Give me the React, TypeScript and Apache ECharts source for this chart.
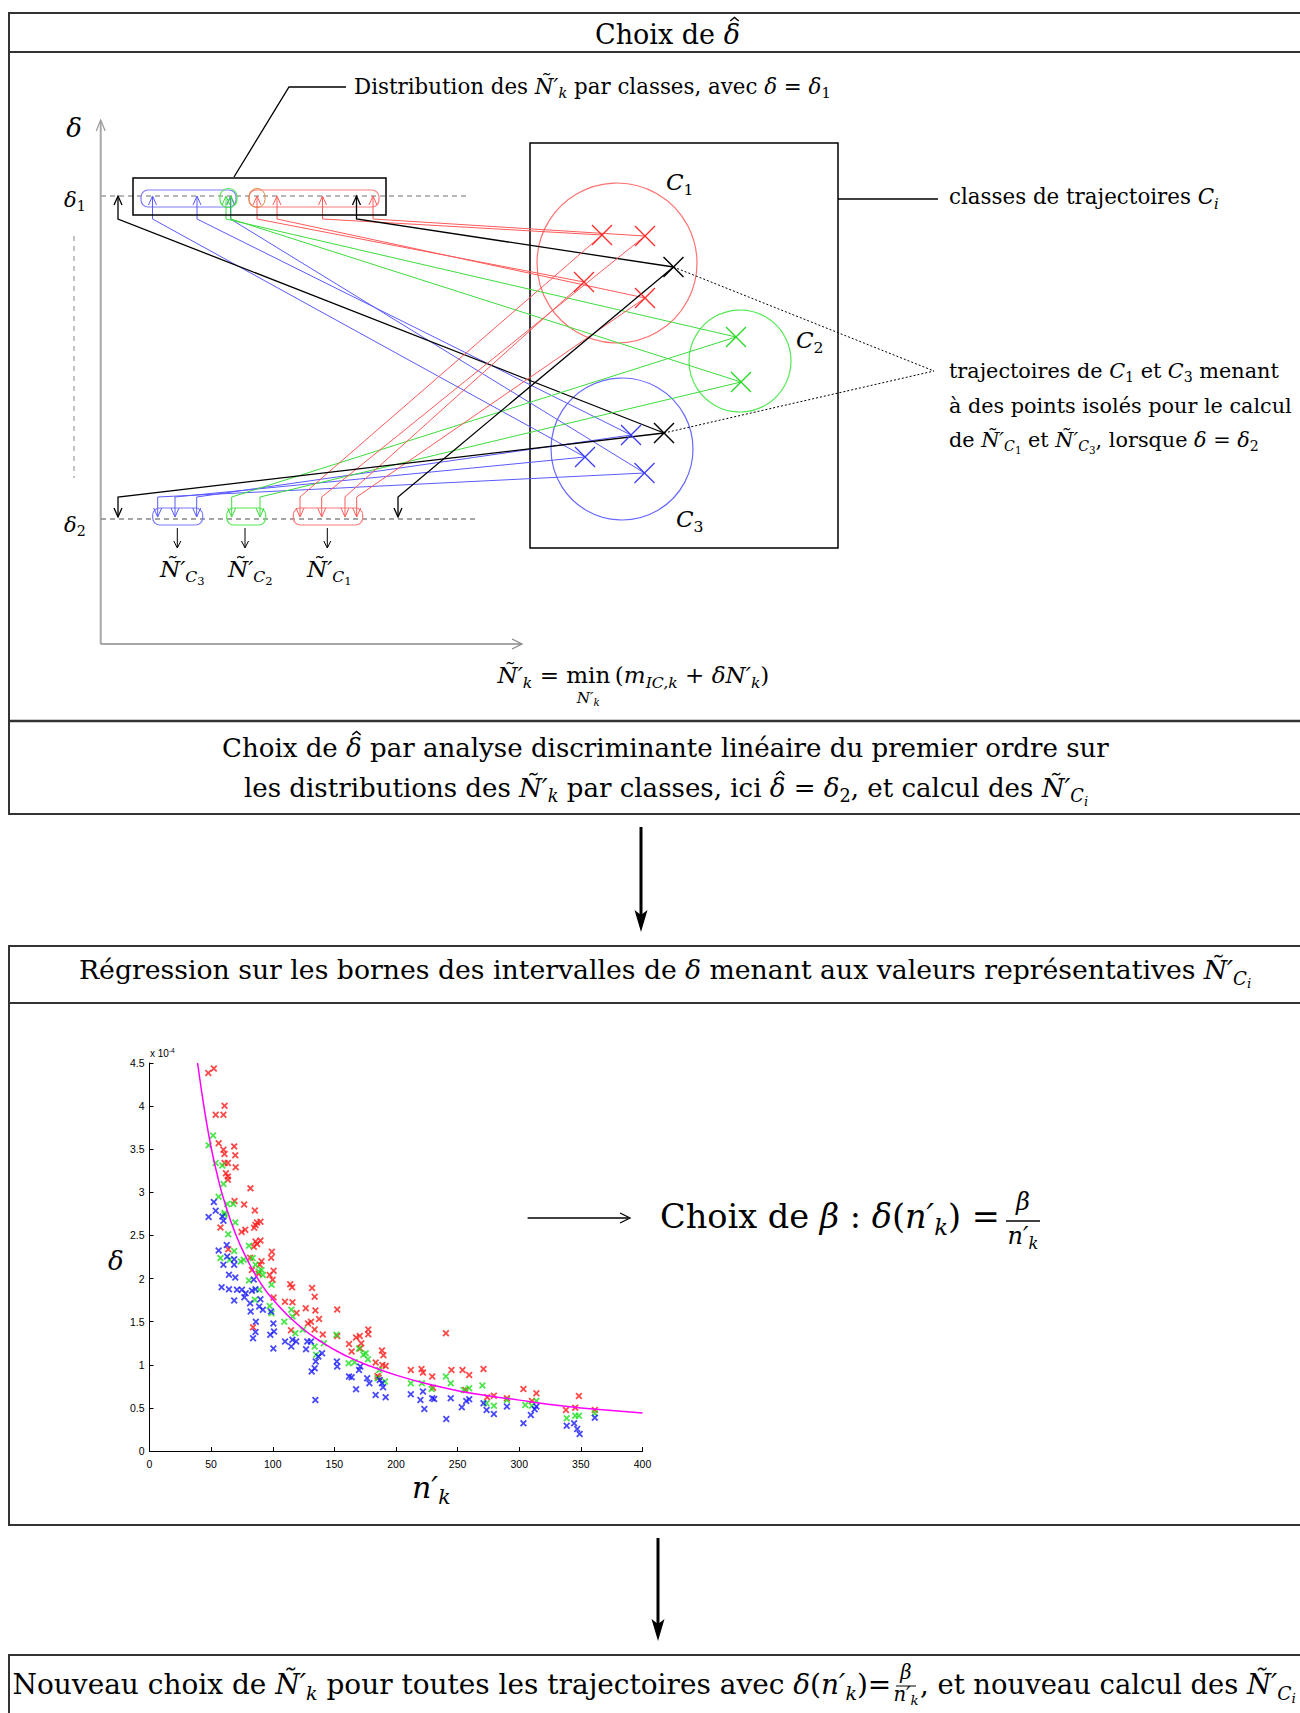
import { useEffect, useRef } from 'react';
import * as echarts from 'echarts';

// ---------- Regression scatter: upper bounds of delta (x 1e-4) versus n'_k ----------
const xTicks = [0, 50, 100, 150, 200, 250, 300, 350, 400];
const yTicks = [0, 0.5, 1, 1.5, 2, 2.5, 3, 3.5, 4, 4.5];

const redPoints: number[][] = [
  [47.7, 4.385], [52.2, 4.435], [53.7, 3.9], [60, 3.9], [60.9, 4.005], [56.1, 3.57], [60, 3.495], [60.9, 3.444],
  [60.9, 3.34], [63.6, 3.34], [62, 3.22], [63.6, 3.185], [63.6, 3.146], [68.7, 3.533], [69.6, 3.43], [69.9, 3.29],
  [57.6, 2.593], [63.9, 2.34], [69, 2.9], [76.8, 2.86], [74.7, 2.54], [77.7, 2.566], [81.9, 3.046], [85.5, 2.79],
  [84.9, 2.59], [86, 2.62], [87.3, 2.65], [90, 2.66], [86, 2.43], [90, 2.44], [87.3, 2.4], [90.9, 2.2],
  [89.4, 2.16], [84.6, 2.37], [81.6, 2.24], [83.1, 2.1], [88.5, 2.055], [99.3, 2.31], [98.7, 2.24], [100.7, 2.09],
  [99.9, 1.985], [97.5, 2.04], [100.7, 1.78], [109.9, 1.73], [114.2, 1.935], [115.7, 1.9], [116, 1.725], [119.3, 1.6],
  [114.8, 1.4], [126.8, 1.656], [131.9, 1.89], [134, 1.79], [134.6, 1.63], [137.6, 1.53], [128.6, 1.48], [131, 1.5],
  [134, 1.41], [140.6, 1.35], [152.3, 1.64], [152.3, 1.335], [84, 1.436], [161.9, 1.24], [164, 1.153], [167.6, 1.316],
  [170.6, 1.335], [177.5, 1.41], [177.5, 1.354], [171.8, 1.25], [170.9, 1.19], [188.6, 1.165], [189.8, 1.11], [191.6, 0.987],
  [188.9, 0.998], [183.5, 1.026], [185, 0.87], [212, 0.94], [220.7, 0.952], [221.9, 0.909], [229.4, 0.863], [230, 0.735],
  [240.5, 1.366], [245, 0.94], [254, 0.94], [259.4, 0.882], [271, 0.952], [256.4, 0.708], [274, 0.623], [279.4, 0.642],
  [290, 0.611], [303.4, 0.72], [310.3, 0.58], [313.9, 0.67], [337.9, 0.476], [345.4, 0.503], [348.4, 0.639], [361.3, 0.476],
  [185.9, 0.851],
];

const greenPoints: number[][] = [
  [48, 3.545], [51.6, 3.66], [53.7, 3.34], [59.1, 3.31], [60, 3.096], [56.1, 2.95], [63, 2.864], [68, 2.864],
  [60.9, 2.76], [60.9, 2.74], [69.6, 2.65], [63.9, 2.515], [68.7, 2.32], [57.6, 2.237], [65, 2.217], [74, 2.198],
  [76.5, 2.217], [80.7, 2.38], [83.7, 2.237], [86, 2.16], [80.7, 1.978], [88.5, 2.082], [90.9, 2.1], [92.1, 2.04],
  [89.1, 1.87], [85.5, 1.753], [99, 1.927], [97.5, 1.683], [99, 1.598], [109.4, 1.5], [115.1, 1.637], [116, 1.56],
  [118.4, 1.366], [124.4, 1.405], [134, 1.211], [141.5, 1.25], [135.2, 1.115], [151.7, 1.347], [161.6, 1.018], [166.4, 1.03],
  [170, 1.19], [173.6, 1.115], [175.4, 1.134], [177.2, 1.064], [185, 0.844], [191, 0.805], [212, 0.786], [221, 0.786],
  [229, 0.72], [240.5, 0.863], [244.4, 0.786], [254.9, 0.708], [259.4, 0.728], [270.1, 0.759], [273.5, 0.553], [279.4, 0.526],
  [290, 0.592], [304.9, 0.534], [310.3, 0.526], [313.9, 0.58], [338.5, 0.379], [345.4, 0.41], [348.4, 0.41], [361.3, 0.437],
  [186.5, 0.94],
];

const bluePoints: number[][] = [
  [48, 2.713], [52.2, 2.887], [53.7, 2.786], [59.1, 2.72], [60, 2.67], [62.7, 2.39], [56.1, 2.326], [63, 2.256],
  [60, 2.16], [64.5, 2.043], [68.7, 2.225], [68.7, 2.16], [69.6, 2.012], [58.5, 1.9], [64.5, 1.877], [71, 1.87],
  [68.7, 1.745], [75, 1.87], [78, 1.83], [77, 1.784], [81.6, 1.714], [82.1, 1.618], [84.6, 1.99], [83.1, 1.86],
  [86, 1.877], [86.3, 1.5], [86, 1.38], [84, 1.307], [89, 1.676], [90, 1.76], [92, 1.637], [98.6, 1.618],
  [100.5, 1.48], [101, 1.385], [100.5, 1.19], [98, 1.347], [110, 1.27], [115, 1.211], [116, 1.29], [119, 1.27],
  [127, 1.18], [128, 1.27], [131, 1.27], [131.6, 0.921], [134, 0.96], [134.9, 1.037], [137, 1.095], [140, 1.134],
  [134.6, 0.592], [152, 1.037], [152.3, 0.979], [161.9, 0.863], [164, 0.855], [167.6, 0.716], [170, 0.94], [171, 0.979],
  [176.6, 0.844], [178.4, 0.786], [183.5, 0.65], [186.8, 0.824], [188.6, 0.786], [189.5, 0.739], [191.6, 0.623], [212, 0.658],
  [219.8, 0.592], [221.9, 0.689], [223, 0.488], [229.4, 0.611], [231, 0.604], [240.8, 0.372], [244.4, 0.611], [253.4, 0.507],
  [257, 0.58], [259.4, 0.6], [271, 0.553], [273.5, 0.476], [279.4, 0.43], [290, 0.515], [303.4, 0.321], [309.4, 0.418],
  [312.5, 0.484], [313.9, 0.515], [338.5, 0.294], [344.5, 0.321], [347, 0.255], [349, 0.197], [361.3, 0.387],
];

// fitted curve delta = beta / n'_k, in units of 1e-4
const fitCurve: number[][] = [
  [39, 4.5], [45, 3.92], [50, 3.52], [55, 3.2], [60, 2.93], [70, 2.51], [80, 2.2], [90, 1.95], [100, 1.76],
  [120, 1.47], [140, 1.26], [160, 1.1], [180, 0.98], [200, 0.88], [225, 0.78], [250, 0.7], [275, 0.64],
  [300, 0.59], [325, 0.54], [350, 0.5], [375, 0.47], [400, 0.44],
];

// ---------- small typesetting helper for the formulas ----------
const SERIF = '"DejaVu Serif"';
const SANS = '"Liberation Sans"';
const CENTRAL = 0.346;

type Kind = 'r' | 'i' | 'sub' | 'subr' | 'ss' | 'ssr' | 'sup' | 'hat';
type Run = [string, Kind?];

const KINDS: Record<Kind, { s: number; it: boolean; dy: number }> = {
  r: { s: 1, it: false, dy: 0 },
  i: { s: 1, it: true, dy: 0 },
  hat: { s: 1, it: true, dy: 0 },
  sub: { s: 0.68, it: true, dy: 0.2 },
  subr: { s: 0.68, it: false, dy: 0.2 },
  ss: { s: 0.5, it: true, dy: 0.33 },
  ssr: { s: 0.5, it: false, dy: 0.33 },
  sup: { s: 0.65, it: false, dy: -0.42 },
};

let ctx: CanvasRenderingContext2D | null = null;
function measure(text: string, size: number, italic: boolean, family: string) {
  if (!ctx) ctx = document.createElement('canvas').getContext('2d');
  ctx!.font = `${italic ? 'italic ' : ''}${size}px ${family}`;
  return ctx!.measureText(text).width;
}

function layoutRuns(runs: Run[], F: number, family: string) {
  const items: { t: string; x: number; size: number; it: boolean; dy: number }[] = [];
  const hats: { cx: number; w: number }[] = [];
  const starts: number[] = [];
  let x = 0;
  runs.forEach(([t, k = 'r']) => {
    const m = KINDS[k];
    const size = m.s * F;
    const w = measure(t, size, m.it, family);
    starts.push(x);
    items.push({ t, x, size, it: m.it, dy: m.dy * F });
    if (k === 'hat') hats.push({ cx: x + w / 2 + 0.1 * F, w });
    x += w;
  });
  return { items, hats, width: x, starts };
}

interface MathOpts { x: number; y: number; F?: number; width?: number; align?: 'left' | 'center' | 'right'; fill?: string; family?: string }

function mathText(runs: Run[], o: MathOpts) {
  const fam = o.family ?? SERIF;
  let F = o.F ?? 20;
  if (o.width) F = (100 * o.width) / layoutRuns(runs, 100, fam).width;
  const L = layoutRuns(runs, F, fam);
  const x0 = o.x - (o.align === 'center' ? L.width / 2 : o.align === 'right' ? L.width : 0);
  const fill = o.fill ?? '#000';
  const els: any[] = L.items.map((it) => ({
    type: 'text',
    silent: true,
    x: x0 + it.x,
    y: o.y + it.dy - CENTRAL * it.size,
    style: {
      text: it.t,
      font: `${it.it ? 'italic ' : ''}${it.size.toFixed(2)}px ${fam}`,
      fill,
      textAlign: 'left',
      textVerticalAlign: 'middle',
    },
  }));
  // circumflex accents are stroked, sitting just above the letter
  L.hats.forEach((h) => {
    const cx = x0 + h.cx;
    const top = o.y - 0.98 * F;
    els.push({
      type: 'polyline',
      silent: true,
      shape: { points: [[cx - 0.16 * F, top + 0.13 * F], [cx, top], [cx + 0.16 * F, top + 0.13 * F]] },
      style: { stroke: fill, lineWidth: Math.max(1, 0.055 * F), fill: null },
    });
  });
  return { els, F, x0, width: L.width, starts: L.starts.map((s) => x0 + s) };
}

// ---------- drawing primitives ----------
const line = (x1: number, y1: number, x2: number, y2: number, stroke = '#000', lineWidth = 1, lineDash?: number[]) => ({
  type: 'line', silent: true, shape: { x1, y1, x2, y2 }, style: { stroke, lineWidth, lineDash, fill: null },
});
const poly = (points: number[][], stroke = '#000', lineWidth = 1) => ({
  type: 'polyline', silent: true, shape: { points }, style: { stroke, lineWidth, fill: null },
});
const head = (tip: number[], from: number[], len: number, half: number, stroke = '#000', lw = 1) => {
  const dx = tip[0] - from[0];
  const dy = tip[1] - from[1];
  const d = Math.hypot(dx, dy);
  const ux = dx / d;
  const uy = dy / d;
  const bx = tip[0] - ux * len;
  const by = tip[1] - uy * len;
  return poly([[bx - uy * half, by + ux * half], tip, [bx + uy * half, by - ux * half]], stroke, lw);
};
const box = (x: number, y: number, width: number, height: number, stroke = '#000', lineWidth = 1, r = 0) => ({
  type: 'rect', silent: true, shape: { x, y, width, height, r }, style: { fill: null, stroke, lineWidth },
});
const ring = (cx: number, cy: number, r: number, stroke: string) => ({
  type: 'circle', silent: true, shape: { cx, cy, r }, style: { fill: null, stroke, lineWidth: 1.2 },
});
const cross = (p: number[], h: number, stroke: string, lw: number) => [
  line(p[0] - h, p[1] - h, p[0] + h, p[1] + h, stroke, lw),
  line(p[0] - h, p[1] + h, p[0] + h, p[1] - h, stroke, lw),
];

const Nk: Run[] = [['Ñ′', 'i'], ['k', 'sub']];
const NCi: Run[] = [['Ñ′', 'i'], ['C', 'sub'], ['i', 'ss']];
const NC = (d: string): Run[] => [['Ñ′', 'i'], ['C', 'sub'], [d, 'ssr']];
const nk: Run[] = [['n′', 'i'], ['k', 'sub']];
const dnk: Run[] = [['δ', 'i'], ['('], ...nk, [')']];

function buildGraphics() {
  const els: any[] = [];
  const add = (...a: any[]) => els.push(...a);
  const frame = '#333';

  // framed panels
  add(box(9, 13, 1320, 801, frame, 2), line(9, 52, 1300, 52, frame, 2), line(9, 721, 1300, 721, frame, 2.5));
  add(box(9, 946, 1320, 579, frame, 2), line(9, 1003, 1300, 1003, frame, 2));
  add(box(9, 1655, 1320, 100, frame, 2));

  // flow arrows between panels
  add(line(641, 827, 641, 916, '#000', 3), { type: 'polygon', silent: true, shape: { points: [[641, 932], [634.5, 910], [641, 915], [647.5, 910]] }, style: { fill: '#000' } });
  add(line(658, 1538, 658, 1625, '#000', 3), { type: 'polygon', silent: true, shape: { points: [[658, 1641], [651.5, 1619], [658, 1624], [664.5, 1619]] }, style: { fill: '#000' } });

  // ----- schematic: delta axis and the two threshold levels -----
  add(line(100.7, 644, 100.7, 121, '#a8a8a8', 2), head([100.7, 120], [100.7, 140], 11, 4.5, '#999', 1.2));
  add(line(100.7, 644, 521, 644, '#8a8a8a', 1.3), head([522, 644], [500, 644], 10, 5, '#8a8a8a', 1.3));
  add(line(101, 196, 470, 196, '#a0a0a0', 1.3, [5, 4]), line(101, 519, 477, 519, '#888', 1.3, [5, 4]));
  add(line(74, 236, 74, 478, '#b0b0b0', 1.5, [5, 5]));

  const R = '#ff5a5a';
  const Gc = '#3ddc3d';
  const B = '#5a5aff';
  const K = '#000';

  // class regions
  add(box(530, 143, 308, 405, '#000', 1.5));
  add(ring(617, 263, 80, '#ff7070'), ring(740, 361, 51, '#55e855'), ring(622, 449, 71, '#6a6aff'));

  const P: Record<string, number[]> = {
    r1: [602, 235], r2: [645, 236], r3: [584, 282], r4: [645, 298],
    g1: [736, 337], g2: [741, 382],
    b1: [631, 435], b2: [585, 457], b3: [644.5, 473],
    k1: [673.5, 267], k3: [664, 433],
  };

  // distribution brackets
  add(box(141, 190, 95, 17, '#7a7aff', 1.2, 7), box(220, 188.5, 17, 19, '#55e855', 1.2, 8), box(249, 190, 130, 17, '#ff7a7a', 1.2, 7), box(249, 188.5, 16, 19, '#e08a40', 1, 8));
  add(box(152.7, 508, 50, 17, '#7a7aff', 1.2, 7), box(226.7, 508, 39, 17, '#55e855', 1.2, 7), box(293.3, 508, 69.4, 17, '#ff7a7a', 1.2, 7));

  const upper: [number, string, string][] = [
    [152.5, 'b2', B], [197, 'b1', B], [230.5, 'b3', B], [226, 'g1', Gc], [231, 'g2', Gc],
    [257, 'r3', R], [277, 'r4', R], [322.5, 'r1', R], [373, 'r2', R], [356.5, 'k1', K], [118, 'k3', K],
  ];
  const lower: [number, string, string][] = [
    [157.7, 'b3', B], [175, 'b2', B], [196.7, 'b1', B], [231.7, 'g1', Gc], [260, 'g2', Gc],
    [300, 'r1', R], [321.7, 'r2', R], [345, 'r3', R], [356.7, 'r4', R], [118, 'k3', K], [398, 'k1', K],
  ];
  upper.forEach(([x, key, c]) => {
    const lw = c === K ? 1.3 : 1;
    add(poly([P[key], [x, 219], [x, 196.5]], c, lw), head([x, 196], [x, 210], 9, 4, c, lw));
  });
  lower.forEach(([x, key, c]) => {
    const lw = c === K ? 1.3 : 1;
    add(poly([P[key], [x, 497], [x, 516.5]], c, lw), head([x, 517], [x, 505], 9, 4, c, lw));
  });
  ['r1', 'r2', 'r3', 'r4'].forEach((k) => add(...cross(P[k], 10, '#ff2a2a', 1.2)));
  ['g1', 'g2'].forEach((k) => add(...cross(P[k], 10, '#22d822', 1.2)));
  ['b1', 'b2', 'b3'].forEach((k) => add(...cross(P[k], 10, '#3a3aff', 1.2)));
  ['k1', 'k3'].forEach((k) => add(...cross(P[k], 10, '#000', 1.5)));

  // links to the annotations
  add(poly([[234, 177], [289, 87], [346, 87]], '#000', 1.3));
  add(box(133, 178, 253, 37, '#000', 1.5));
  add(line(838, 199, 938, 199, '#000', 1.5));
  add(line(673.5, 267, 934, 371, '#000', 1, [2, 2]), line(664, 433, 934, 371, '#000', 1, [2, 2]));

  // arrows to the representative values
  [177.3, 245, 327.3].forEach((x) => add(line(x, 528, x, 547), head([x, 548], [x, 538], 7, 3.5, '#000', 1)));

  // ----- texts -----
  add(...mathText([['Choix de '], ['δ', 'hat']], { x: 595, y: 44, width: 145 }).els);

  add(...mathText([['Distribution des '], ...Nk, [' par classes, avec '], ['δ', 'i'], [' = '], ['δ', 'i'], ['1', 'subr']], { x: 354, y: 94, width: 477 }).els);
  add(...mathText([['classes de trajectoires '], ['C', 'i'], ['i', 'sub']], { x: 949, y: 204, width: 270 }).els);
  const l2 = mathText([['à des points isolés pour le calcul']], { x: 949, y: 413, width: 343 });
  add(...l2.els);
  add(...mathText([['trajectoires de '], ['C', 'i'], ['1', 'subr'], [' et '], ['C', 'i'], ['3', 'subr'], [' menant']], { x: 949, y: 378, F: l2.F }).els);
  add(...mathText([['de '], ...NC('1'), [' et '], ...NC('3'), [', lorsque '], ['δ', 'i'], [' = '], ['δ', 'i'], ['2', 'subr']], { x: 949, y: 447, F: l2.F }).els);

  add(...mathText([['δ', 'i']], { x: 74, y: 137, F: 26, align: 'center' }).els);
  add(...mathText([['δ', 'i'], ['1', 'subr']], { x: 64, y: 207, F: 21 }).els);
  add(...mathText([['δ', 'i'], ['2', 'subr']], { x: 64, y: 532, F: 21 }).els);

  add(...mathText([['C', 'i'], ['1', 'subr']], { x: 666, y: 190, F: 23 }).els);
  add(...mathText([['C', 'i'], ['2', 'subr']], { x: 796, y: 348, F: 23 }).els);
  add(...mathText([['C', 'i'], ['3', 'subr']], { x: 676, y: 527, F: 23 }).els);

  add(...mathText(NC('3'), { x: 160, y: 577, F: 23 }).els);
  add(...mathText(NC('2'), { x: 228, y: 577, F: 23 }).els);
  add(...mathText(NC('1'), { x: 307, y: 577, F: 23 }).els);

  // N'_k = min over N'_k of (m_IC,k + delta N'_k)
  const f = mathText([...Nk, [' = '], ['min'], ['\u2009('], ['m', 'i'], ['IC,k', 'sub'], [' + '], ['δN′', 'i'], ['k', 'sub'], [')']], { x: 497.5, y: 683, width: 272 });
  add(...f.els);
  const minW = measure('min', f.F, false, SERIF);
  add(...mathText([['N′', 'i'], ['k', 'sub']], { x: f.starts[3] + minW / 2, y: 703, F: f.F * 0.66, align: 'center' }).els);

  const c1 = mathText([['Choix de '], ['δ', 'hat'], [' par analyse discriminante linéaire du premier ordre sur']], { x: 222, y: 757, width: 887 });
  add(...c1.els);
  add(...mathText([['les distributions des '], ...Nk, [' par classes, ici '], ['δ', 'hat'], [' = '], ['δ', 'i'], ['2', 'subr'], [', et calcul des '], ...NCi], { x: 666, y: 797, F: c1.F, align: 'center' }).els);

  add(...mathText([['Régression sur les bornes des intervalles de '], ['δ', 'i'], [' menant aux valeurs représentatives '], ...NCi], { x: 79, y: 979, width: 1173 }).els);

  // scatter annotations
  add(...mathText([['δ', 'i']], { x: 108, y: 1270, F: 26 }).els);
  add(...mathText(nk, { x: 412, y: 1498, F: 30 }).els);
  add(...mathText([['x 10'], ['-4', 'sup']], { x: 150, y: 1057, F: 10, family: SANS }).els);

  add(line(527.6, 1218, 628, 1218, '#000', 1.3), head([630, 1218], [610, 1218], 10, 5, '#000', 1.3));
  add(...mathText([['Choix de '], ['β', 'i'], [' : '], ...dnk, [' =']], { x: 660, y: 1228, width: 340 }).els);
  add(...mathText([['β', 'i']], { x: 1023, y: 1210, F: 24, align: 'center' }).els);
  add(line(1006, 1221, 1040, 1221, '#000', 1.3));
  add(...mathText(nk, { x: 1023, y: 1244, F: 24, align: 'center' }).els);

  // closing panel
  const left = mathText([['Nouveau choix de '], ...Nk, [' pour toutes les trajectoires avec '], ...dnk, ['=']], { x: 12.5, y: 1694, width: 879 });
  add(...left.els);
  add(...mathText([['β', 'i']], { x: 906, y: 1679, F: left.F * 0.7, align: 'center' }).els);
  add(line(896, 1686, 916, 1686, '#000', 1));
  add(...mathText(nk, { x: 906, y: 1701, F: left.F * 0.7, align: 'center' }).els);
  add(...mathText([[', et nouveau calcul des '], ...NCi], { x: 920, y: 1694, width: 376 }).els);

  return els;
}

const xMark = 'path://M0,1.8L1.8,0L5,3.2L8.2,0L10,1.8L6.8,5L10,8.2L8.2,10L5,6.8L1.8,10L0,8.2L3.2,5Z';

function buildOption() {
  const axisCommon = {
    type: 'value',
    axisLine: { show: true, lineStyle: { color: '#000', width: 1 } },
    axisTick: { show: true, inside: true, length: 4, lineStyle: { color: '#000' } },
    splitLine: { show: false },
  };
  return {
    animation: false,
    backgroundColor: '#fff',
    grid: { left: 149.5, top: 1063, width: 493, height: 388, containLabel: false },
    xAxis: {
      ...axisCommon,
      min: xTicks[0],
      max: xTicks[xTicks.length - 1],
      interval: xTicks[1] - xTicks[0],
      axisLabel: { fontSize: 10.5, color: '#000', fontFamily: SANS, margin: 7 },
    },
    yAxis: {
      ...axisCommon,
      min: yTicks[0],
      max: yTicks[yTicks.length - 1],
      interval: yTicks[1] - yTicks[0],
      axisLabel: { fontSize: 10.5, color: '#000', fontFamily: SANS, margin: 5 },
    },
    series: [
      { type: 'scatter', data: redPoints, symbol: xMark, symbolSize: 7, silent: true, itemStyle: { color: '#ff1a1a' } },
      { type: 'scatter', data: greenPoints, symbol: xMark, symbolSize: 7, silent: true, itemStyle: { color: '#1ee01e' } },
      { type: 'scatter', data: bluePoints, symbol: xMark, symbolSize: 7, silent: true, itemStyle: { color: '#1a1aff' } },
      { type: 'line', data: fitCurve, smooth: true, symbol: 'none', silent: true, lineStyle: { color: '#ff00ff', width: 1.5 } },
    ],
    graphic: { elements: buildGraphics() },
  };
}

export default function App() {
  const ref = useRef<HTMLDivElement>(null);
  useEffect(() => {
    const chart = echarts.init(ref.current!, null, { renderer: 'svg' });
    chart.setOption(buildOption() as any);
    return () => chart.dispose();
  }, []);
  return <div ref={ref} style={{ position: 'absolute', left: 0, top: 0, width: 1300, height: 1713, background: '#fff' }} />;
}
